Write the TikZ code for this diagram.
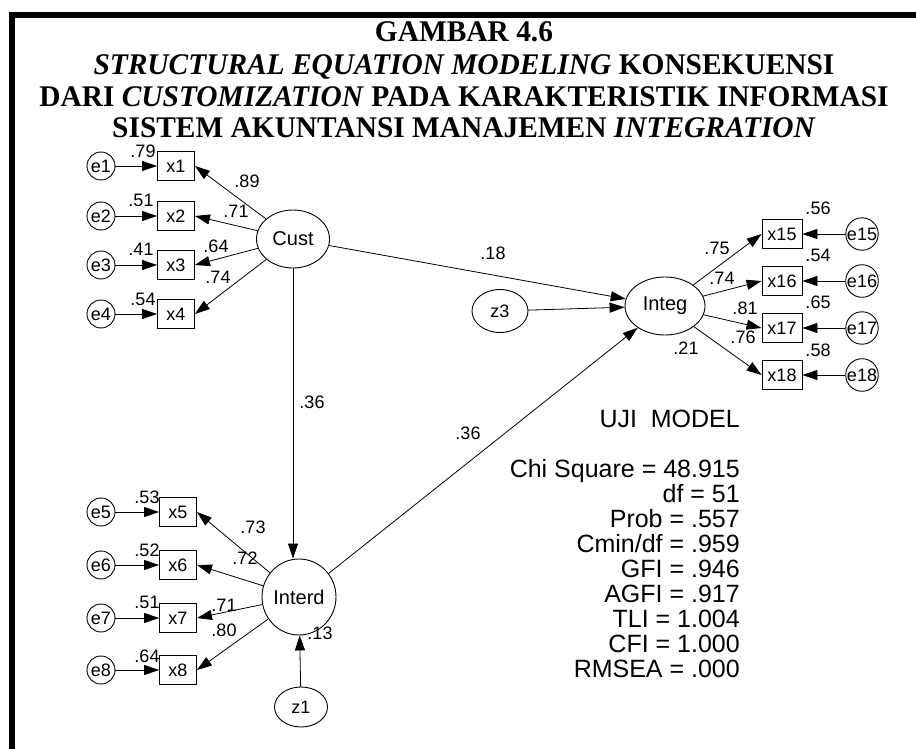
\documentclass[tikz,border=0pt]{standalone}
\usepackage{fontspec}
\setmainfont{Liberation Serif}
\setsansfont{Liberation Sans}
\newfontfamily\titlefont{Liberation Serif}[FakeStretch=0.98]
\usetikzlibrary{arrows.meta, positioning, shapes.geometric}

\begin{document}
\begin{tikzpicture}[
  x=1pt, y=-1pt,
  >={Triangle[length=15pt,width=10pt]},
  every node/.style={font=\sffamily\fontsize{18}{20}\selectfont},
  latent/.style={draw, ellipse, line width=0.9pt, inner sep=0pt,
                 font=\sffamily\fontsize{20}{22}\selectfont},
  errcirc/.style={draw, circle, line width=0.9pt, minimum size=28pt, inner sep=0pt},
  indbox/.style={draw, rectangle, line width=0.9pt, minimum width=37pt,
                 minimum height=29pt, inner sep=0pt},
  arr/.style={->, line width=0.8pt},
  coef/.style={inner sep=0pt},
  titleline/.style={font=\titlefont\bfseries\fontsize{30}{32}\selectfont, anchor=base, inner sep=0pt},
  fitline/.style={font=\sffamily\fontsize{25}{27}\selectfont, anchor=base east, inner sep=0pt},
]
\useasboundingbox (0,0) rectangle (916,749);

%% column positions
\def\xE{101}    % error circles, left
\def\xX{176}    % indicator boxes, left
\def\xXr{782}   % indicator boxes, right
\def\xEr{862}   % error circles, right

%% frame
\draw[line width=6pt] (916,15) -- (12,15) -- (12,749);

%% title
\node[titleline] (t1) at (464,42) {GAMBAR 4.6};
\node[titleline] (t2) at (464,74.5) {\textit{STRUCTURAL EQUATION MODELING} KONSEKUENSI};
\node[titleline] (t3) at (464,106.5) {DARI \textit{CUSTOMIZATION} PADA KARAKTERISTIK INFORMASI};
\node[titleline] (t4) at (464,138) {SISTEM AKUNTANSI MANAJEMEN \textit{INTEGRATION}};

%% ---- latent variables ----
\node[latent, minimum width=73pt, minimum height=58pt] (Cust)   at (293,239) {Cust};
\node[latent, minimum width=80pt, minimum height=58pt] (Integ)  at (665,306) {Integ};
\node[latent, minimum width=74pt, minimum height=76pt] (Interd) at (299,597) {Interd};
\node[latent, minimum width=56pt, minimum height=43pt, font=\sffamily\fontsize{18}{20}\selectfont] (z3) at (500,311) {z3};
\node[latent, minimum width=53pt, minimum height=40pt, font=\sffamily\fontsize{18}{20}\selectfont] (z1) at (301,707) {z1};

%% ---- indicators, Cust ----
\foreach \i/\y in {1/166,2/216,3/265,4/314}{
  \node[errcirc] (e\i) at (\xE,\y) {e\i};
  \node[indbox]  (x\i) at (\xX,\y) {x\i};
  \draw[arr] (e\i) -- (x\i);
  \draw[arr] (Cust) -- (x\i.east);
}

%% ---- indicators, Interd ----
\foreach \i/\y in {5/512,6/565,7/618,8/670}{
  \node[errcirc] (e\i) at (\xE,\y) {e\i};
  \node[indbox]  (x\i) at (\xX+2,\y) {x\i};
  \draw[arr] (e\i) -- (x\i);
  \draw[arr] (Interd) -- (x\i.east);
}

%% ---- indicators, Integ ----
\foreach \i/\y in {15/234,16/281,17/328,18/375}{
  \node[errcirc] (e\i) at (\xEr,\y) {e\i};
  \node[indbox, minimum width=40pt] (x\i) at (\xXr,\y) {x\i};
  \draw[arr] (e\i) -- (x\i);
  \draw[arr] (Integ) -- (x\i.west);
}

%% ---- structural paths ----
\draw[arr] (Cust) -- (Integ);
\draw[arr] (Cust) -- (Cust |- Interd.north);
\draw[arr] (z3) -- (Integ);
\draw[arr] (Interd) -- (Integ);
\draw[arr] (z1) -- (Interd);

%% ---- estimates ----
\node[coef] (r1) at (143,151) {.79};
\node[coef] (r2) at (141,200) {.51};
\node[coef] (r3) at (141,249) {.41};
\node[coef] (r4) at (143,299) {.54};
\node[coef] (l1) at (247,181) {.89};
\node[coef] (l2) at (236,211) {.71};
\node[coef] (l3) at (216,246) {.64};
\node[coef] (l4) at (218,277) {.74};

\node[coef] (r5) at (147,497) {.53};
\node[coef] (r6) at (147,550) {.52};
\node[coef] (r7) at (147,602) {.51};
\node[coef] (r8) at (147,656) {.64};
\node[coef] (l5) at (253,527) {.73};
\node[coef] (l6) at (245,558) {.72};
\node[coef] (l7) at (224,605) {.71};
\node[coef] (l8) at (224,630) {.80};
\node[coef] (rInterd) at (320,633) {.13};

\node[coef] (r15) at (818,208) {.56};
\node[coef] (r16) at (818,255) {.54};
\node[coef] (r17) at (818,302) {.65};
\node[coef] (r18) at (818,350) {.58};
\node[coef] (l15) at (717,248) {.75};
\node[coef] (l16) at (722,278) {.74};
\node[coef] (l17) at (745,308) {.81};
\node[coef] (l18) at (743,337) {.76};
\node[coef] (rInteg) at (686,348) {.21};

\node[coef] (bCI) at (493,253) {.18};
\node[coef] (bCD) at (312,402) {.36};
\node[coef] (bDI) at (468,433) {.36};

%% ---- model fit ----
\node[fitline] (uji)   at (740,427) {UJI\ \ MODEL};
\node[fitline] (fit1)  at (740,477) {Chi Square = 48.915};
\node[fitline] (fit2)  at (740,502) {df = 51};
\node[fitline] (fit3)  at (740,527) {Prob = .557};
\node[fitline] (fit4)  at (740,552) {Cmin/df = .959};
\node[fitline] (fit5)  at (740,577) {GFI = .946};
\node[fitline] (fit6)  at (740,602) {AGFI = .917};
\node[fitline] (fit7)  at (740,627) {TLI = 1.004};
\node[fitline] (fit8)  at (740,652) {CFI = 1.000};
\node[fitline] (fit9)  at (740,677) {RMSEA = .000};

\end{tikzpicture}
\end{document}
